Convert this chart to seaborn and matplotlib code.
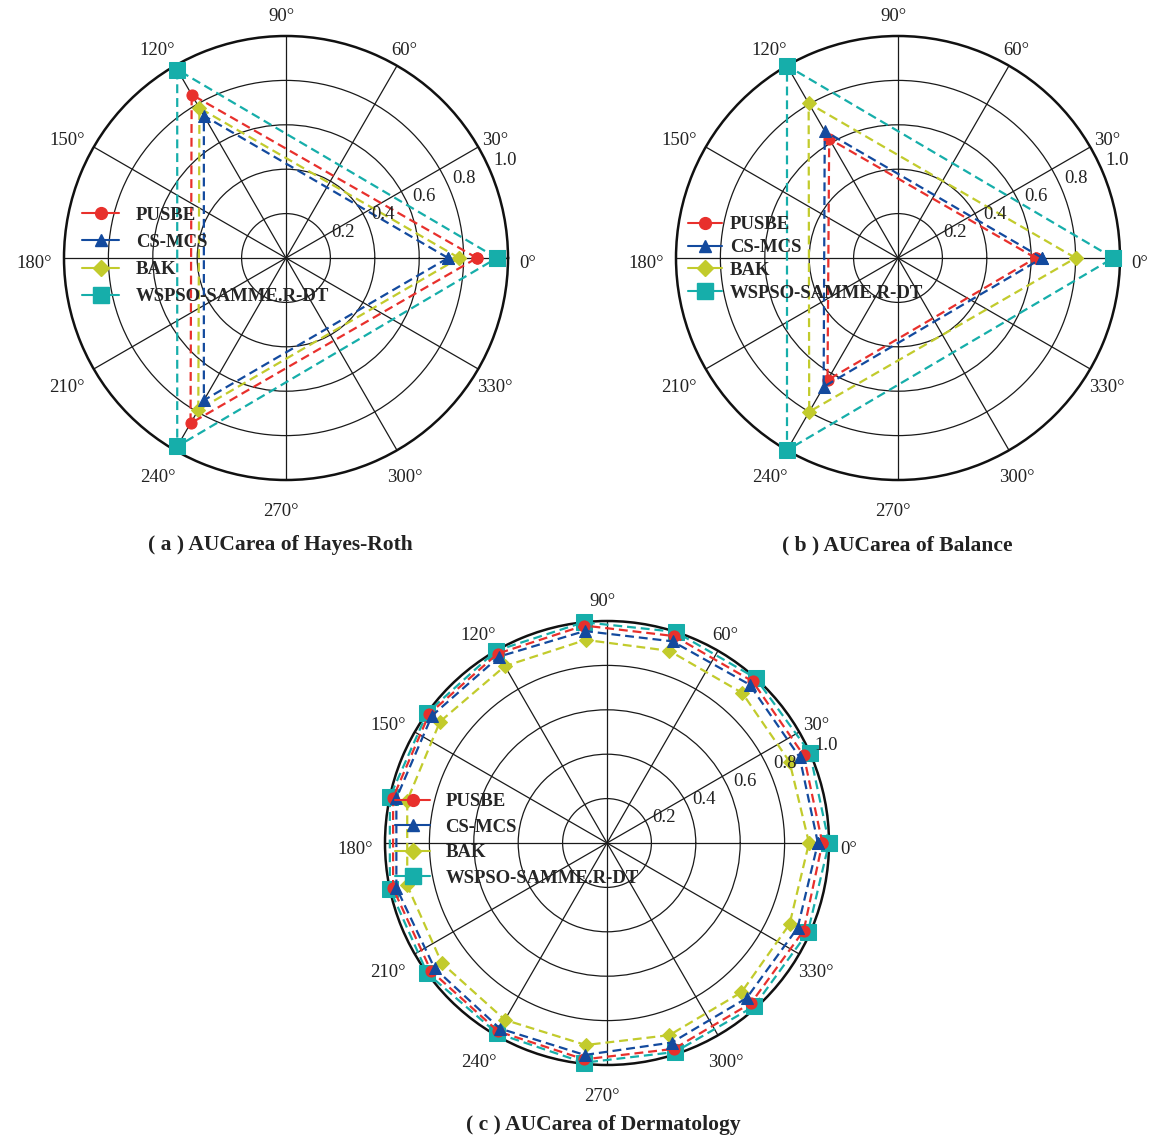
import numpy as np
import pandas as pd
import matplotlib
matplotlib.use("Agg")
import matplotlib.pyplot as plt
import matplotlib.transforms as mtransforms
import seaborn as sns
from matplotlib.lines import Line2D

# ---------------------------------------------------------
# Data (pairwise AUC values placed on polar axes)
# ---------------------------------------------------------
methods = ["PUSBE", "CS-MCS", "BAK", "WSPSO-SAMME.R-DT"]

hayes_angles = [0, 120, 240]
hayes_pusbe = [0.86, 0.85, 0.86]
hayes_csmcs = [0.73, 0.74, 0.74]
hayes_bak = [0.78, 0.78, 0.79]
hayes_wspso = [0.95, 0.98, 0.98]

balance_angles = [0, 120, 240]
balance_pusbe = [0.62, 0.62, 0.635]
balance_csmcs = [0.65, 0.66, 0.67]
balance_bak = [0.80, 0.805, 0.80]
balance_wspso = [0.97, 1.0, 1.0]

derm_angles = [0, 24, 48, 72, 96, 120, 144, 168, 192, 216, 240, 264, 288, 312, 336]
derm_pusbe = [0.97, 0.97, 0.98, 0.98, 0.985, 0.985, 0.99, 0.985, 0.985, 0.98, 0.98, 0.98, 0.975, 0.97, 0.97]
derm_csmcs = [0.95, 0.95, 0.96, 0.955, 0.96, 0.97, 0.975, 0.97, 0.97, 0.96, 0.965, 0.96, 0.945, 0.94, 0.94]
derm_bak = [0.91, 0.90, 0.91, 0.91, 0.92, 0.92, 0.93, 0.92, 0.92, 0.92, 0.92, 0.915, 0.91, 0.905, 0.90]
derm_wspso = [1.0, 1.0, 1.0, 1.0, 1.0, 1.0, 1.0, 1.0, 1.0, 1.0, 0.99, 0.995, 0.99, 0.99, 0.99]

r_ticks = [0.2, 0.4, 0.6, 0.8, 1.0]
theta_ticks = list(range(0, 360, 30))

captions = ["( a ) AUCarea of Hayes-Roth", "( b ) AUCarea of Balance", "( c ) AUCarea of Dermatology"]

# style per method
colors = {"PUSBE": "#e8302c", "CS-MCS": "#134a9e", "BAK": "#c2cb2c", "WSPSO-SAMME.R-DT": "#16aeaa"}
markers = {"PUSBE": "o", "CS-MCS": "^", "BAK": "D", "WSPSO-SAMME.R-DT": "s"}
msizes = {"PUSBE": 8, "CS-MCS": 8.5, "BAK": 7.5, "WSPSO-SAMME.R-DT": 11}

sns.set_theme(style="white")
plt.rcParams['font.family'] = ['Liberation Serif', 'DejaVu Serif']

fig = plt.figure(figsize=(11.52, 11.37), dpi=100)

W = 444 / 1152
H = 444 / 1137
positions = [
    [(286 - 222) / 1152, 1 - (258 + 222) / 1137, W, H],
    [(898 - 222) / 1152, 1 - (258 + 222) / 1137, W, H],
    [(607 - 222) / 1152, 1 - (843 + 222) / 1137, W, H],
]


def build_frame(angles, series):
    rows = []
    for name, vals in zip(methods, series):
        # close the polygon by repeating the first point at 360 degrees
        a = list(angles) + [360]
        v = list(vals) + [vals[0]]
        for k, (ang, val) in enumerate(zip(a, v)):
            rows.append({"method": name, "theta": np.deg2rad(ang), "r": val, "order": k})
    return pd.DataFrame(rows)


# (angles, series, legend anchor, labelspacing, handlelength, handletextpad)
panels = [
    (hayes_angles, [hayes_pusbe, hayes_csmcs, hayes_bak, hayes_wspso], (0.002, 0.5045), 0.53, 2.0, 0.9),
    (balance_angles, [balance_pusbe, balance_csmcs, balance_bak, balance_wspso], (-0.011, 0.498), 0.30, 1.8, 0.45),
    (derm_angles, [derm_pusbe, derm_csmcs, derm_bak, derm_wspso], (-0.016, 0.507), 0.44, 1.9, 0.8),
]

draw_order = ["WSPSO-SAMME.R-DT", "BAK", "PUSBE", "CS-MCS"]

for i, (angles, series, leg_anchor, lspace, hlen, hpad) in enumerate(panels):
    ax = fig.add_axes(positions[i], projection='polar')
    df = build_frame(angles, series)

    for name in draw_order:
        sub = df[df["method"] == name]
        sns.lineplot(
            data=sub, x="theta", y="r", ax=ax, sort=False, estimator=None,
            color=colors[name], linestyle=(0, (4, 2.2)), linewidth=1.6,
            marker=markers[name], markersize=msizes[name],
            markerfacecolor=colors[name], markeredgecolor=colors[name],
            legend=False, clip_on=False, zorder=3,
        )

    ax.set_xlabel("")
    ax.set_ylabel("")
    ax.set_ylim(0, 1.0)
    ax.set_yticks(r_ticks[:-1])
    ax.set_yticklabels([])
    ax.set_xticks(np.deg2rad(theta_ticks))
    ax.set_xticklabels([])
    ax.grid(True, color='#1a1a1a', linewidth=0.9, linestyle='-')
    ax.spines['polar'].set_linewidth(1.8)
    ax.spines['polar'].set_color('#111111')
    ax.set_facecolor('white')

    # angle labels sit on a ring slightly shifted down-left, as in the source figure
    shift = mtransforms.ScaledTranslation(-5 / 100, -6 / 100, fig.dpi_scale_trans)
    for d in theta_ticks:
        ax.text(np.deg2rad(d), 1.113, f"{d}°", ha='center', va='center', fontsize=13.5,
                color='#222222', transform=ax.transData + shift, clip_on=False)

    # radial tick labels along a ray near 24 degrees
    for v in r_ticks:
        ax.text(np.deg2rad(24), v + 0.08, f"{v:.1f}", ha='center', va='center',
                fontsize=13.5, color='#222222', zorder=5)

    handles = [
        Line2D([], [], color=colors[m], marker=markers[m], markersize=msizes[m] + 0.5,
               markerfacecolor=colors[m], markeredgecolor=colors[m], linewidth=1.5)
        for m in methods
    ]
    leg = ax.legend(handles, methods, loc='center left', bbox_to_anchor=leg_anchor,
                    frameon=False, handlelength=hlen, handletextpad=hpad,
                    labelspacing=lspace, prop={'weight': 'bold', 'size': 13.5})
    leg.set_zorder(6)

fig.text(280 / 1152, 1 - 545 / 1137, captions[0], ha='center', va='center', fontsize=15.5, fontweight='bold', color='#222222')
fig.text(897 / 1152, 1 - 545 / 1137, captions[1], ha='center', va='center', fontsize=15.5, fontweight='bold', color='#222222')
fig.text(603 / 1152, 1 - 1125 / 1137, captions[2], ha='center', va='center', fontsize=15.5, fontweight='bold', color='#222222')

fig.savefig("out.png", dpi=100, facecolor='white')
